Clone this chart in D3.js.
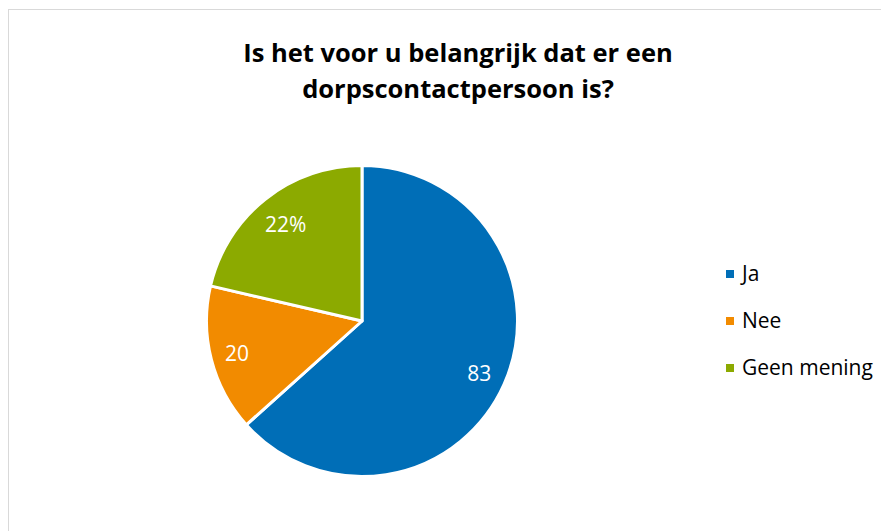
<!DOCTYPE html>
<html><head><meta charset="utf-8">
<script src="https://cdn.jsdelivr.net/npm/d3@7"></script>
<style>html,body{margin:0;padding:0;background:#fff;}svg{display:block;}</style>
</head><body>
<svg id="c" width="881" height="531"></svg>
<script>
const categories = ["Ja", "Nee", "Geen mening"];
const values = [83, 20, 28];
const labels = ["83", "20", "22%"];
const colors = ["#006EB7", "#F28B00", "#8CAA00"];
const titleLines = ["Is het voor u belangrijk dat er een", "dorpscontactpersoon is?"];

const svg = d3.select("#c");
svg.append("rect").attr("x", 8.5).attr("y", 9.5).attr("width", 890).attr("height", 540)
  .attr("fill", "#fff").attr("stroke", "#d9d9d9").attr("stroke-width", 1);

const font = "'Open Sans', sans-serif";
svg.append("g").selectAll("text").data(titleLines).join("text")
  .attr("x", 458).attr("y", (d, i) => 62 + i * 36)
  .attr("text-anchor", "middle").attr("font-family", font).attr("font-weight", "bold")
  .attr("font-size", 25.5).attr("fill", "#000").text(d => d);

const cx = 362, cy = 321, r = 155.5;
const pie = d3.pie().sort(null).value(d => d)(values);
const arc = d3.arc().innerRadius(0).outerRadius(r);
const g = svg.append("g").attr("transform", `translate(${cx},${cy})`);
g.selectAll("path").data(pie).join("path")
  .attr("d", arc).attr("fill", (d, i) => colors[i])
  .attr("stroke", "#fff").attr("stroke-width", 3).attr("stroke-linejoin", "round");

// "inside end" label placement: the outer corner of each label box sits on a circle inside the rim
const rIn = 143, boxH = 18;
g.selectAll("text.lbl").data(pie).join("text").attr("class", "lbl")
  .attr("text-anchor", "middle").attr("dy", "0.35em")
  .attr("font-family", font).attr("font-size", 21).attr("fill", "#fff")
  .text((d, i) => labels[i])
  .each(function(d) {
    const w = this.getBBox().width;
    const a = (d.startAngle + d.endAngle) / 2;
    const ux = Math.sin(a), uy = -Math.cos(a);
    const c = [Math.sign(ux) * w / 2, Math.sign(uy) * boxH / 2];
    const uc = ux * c[0] + uy * c[1];
    const cc = c[0] * c[0] + c[1] * c[1];
    const t = -uc + Math.sqrt(uc * uc - cc + rIn * rIn);
    d3.select(this).attr("transform", `translate(${t * ux},${t * uy})`);
  });

const leg = svg.append("g").selectAll("g").data(categories).join("g")
  .attr("transform", (d, i) => `translate(726, ${274 + i * 47})`);
leg.append("rect").attr("x", 0).attr("y", -4).attr("width", 8).attr("height", 8)
  .attr("fill", (d, i) => colors[i]);
leg.append("text").attr("x", 16).attr("y", 0).attr("dy", "0.35em")
  .attr("font-family", font).attr("font-size", 21).attr("fill", "#000").text(d => d);
</script>
</body></html>
